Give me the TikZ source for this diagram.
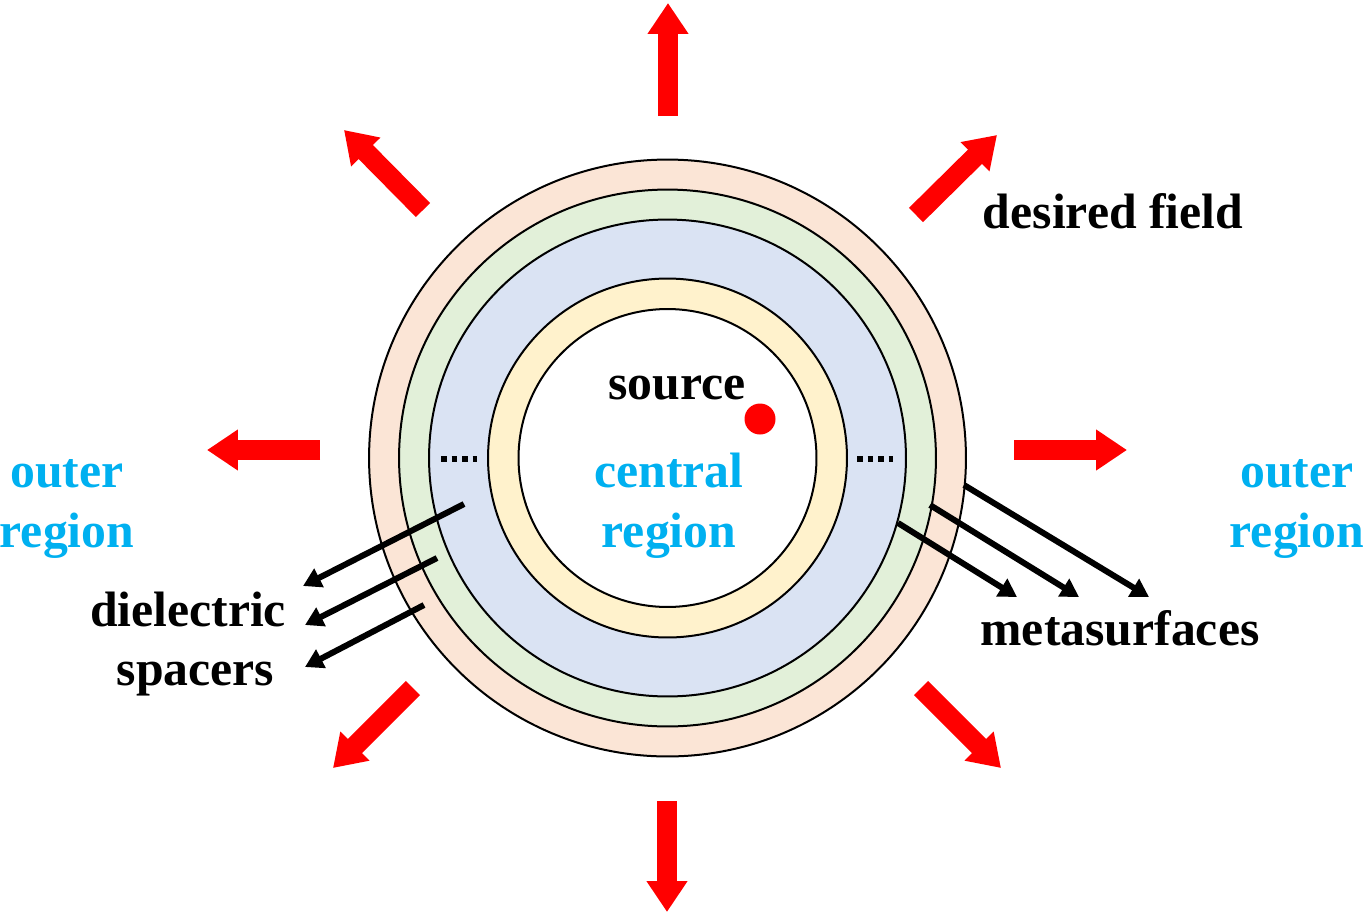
\documentclass[tikz,border=0pt]{standalone}
\usepackage{fontspec}
\setmainfont{Liberation Serif}
\usetikzlibrary{arrows.meta}
\definecolor{peachring}{HTML}{FBE5D6}
\definecolor{greenring}{HTML}{E2F0D9}
\definecolor{bluering}{HTML}{DAE3F3}
\definecolor{yellowring}{HTML}{FFF2CC}
\definecolor{regionblue}{HTML}{00B0F0}
\tikzset{
	ring/.style={draw, circle, line width=0.04cm, inner sep=0pt},
	fieldarrow/.style={red, line width=0.4cm, -{Triangle[length=0.62cm,width=0.78cm]}},
	leader/.style={black, line width=0.12cm, -{Triangle[length=0.36cm,width=0.4cm]}},
	dots/.style={black, line width=0.11cm, dash pattern=on 0.11cm off 0.1cm},
	caption/.style={font=\fontsize{28.3}{34}\selectfont\bfseries, align=center, inner sep=0pt},
	regiontext/.style={caption, text=regionblue}
}
\begin{document}
\begin{tikzpicture}[x=0.02cm, y=-0.02cm]
	
	\useasboundingbox (0,0) rectangle (1365,913);
	
	% Rings
	\node [ring, fill=peachring, minimum size=11.94cm] (outer) at (667.5,458){};
	\node [ring, fill=greenring, minimum size=10.74cm] (second) at (667.5,458){};
	\node [ring, fill=bluering, minimum size=9.54cm] (spacer) at (667.5,458){};
	\node [ring, fill=yellowring, minimum size=7.18cm] (inner) at (667.5,458){};
	\node [ring, fill=white, minimum size=5.96cm] (central) at (667.5,458){};
	
	% Source
	\node [circle, fill=red, minimum size=0.62cm, inner sep=0pt] (src) at (760,419){};
	
	% Field arrows
	\coordinate (n0) at (668,116);   \coordinate (n1) at (668,3);
	\coordinate (ne0) at (916,215);  \coordinate (ne1) at (997,135);
	\coordinate (nw0) at (423,210);  \coordinate (nw1) at (344,130);
	\coordinate (w0) at (320,450);   \coordinate (w1) at (207,450);
	\coordinate (e0) at (1014,450);  \coordinate (e1) at (1127,450);
	\coordinate (sw0) at (413,688);  \coordinate (sw1) at (333,768);
	\coordinate (se0) at (921,688);  \coordinate (se1) at (1001,768);
	\coordinate (s0) at (667,801);   \coordinate (s1) at (667,912);
	\foreach \a in {n,ne,nw,w,e,sw,se,s}
		\draw [fieldarrow] (\a0) -- (\a1);
	
	% Dots
	\coordinate (dl0) at (441,459); \coordinate (dl1) at (477,459);
	\coordinate (dr0) at (857,459); \coordinate (dr1) at (893,459);
	\draw [dots] (dl0) -- (dl1);
	\draw [dots] (dr0) -- (dr1);
	
	% Leaders to the spacers
	\coordinate (a0) at (464,504); \coordinate (a1) at (303,586);
	\coordinate (b0) at (437,558); \coordinate (b1) at (305,625);
	\coordinate (c0) at (424,605); \coordinate (c1) at (305,667);
	% Leaders to the metasurfaces
	\coordinate (d0) at (898,523); \coordinate (d1) at (1017,597);
	\coordinate (f0) at (930,505); \coordinate (f1) at (1079,597);
	\coordinate (g0) at (964,485); \coordinate (g1) at (1149,597);
	\foreach \a in {a,b,c,d,f,g}
		\draw [leader] (\a0) -- (\a1);
	
	% Labels
	\node [caption] (field) at (1113,211) {desired field};
	\node [caption] (source) at (677,388) {source};
	\node [regiontext] (centre) at (669,506) {central\\region};
	\node [regiontext] (outl) at (67,509) {outer\\region};
	\node [regiontext] (outr) at (1297,509) {outer\\region};
	\node [caption] (diel) at (188,644) {dielectric\\\hspace*{0.3cm}spacers};
	\node [caption] (meta) at (1120,628) {metasurfaces};
	
\end{tikzpicture}
\end{document}
